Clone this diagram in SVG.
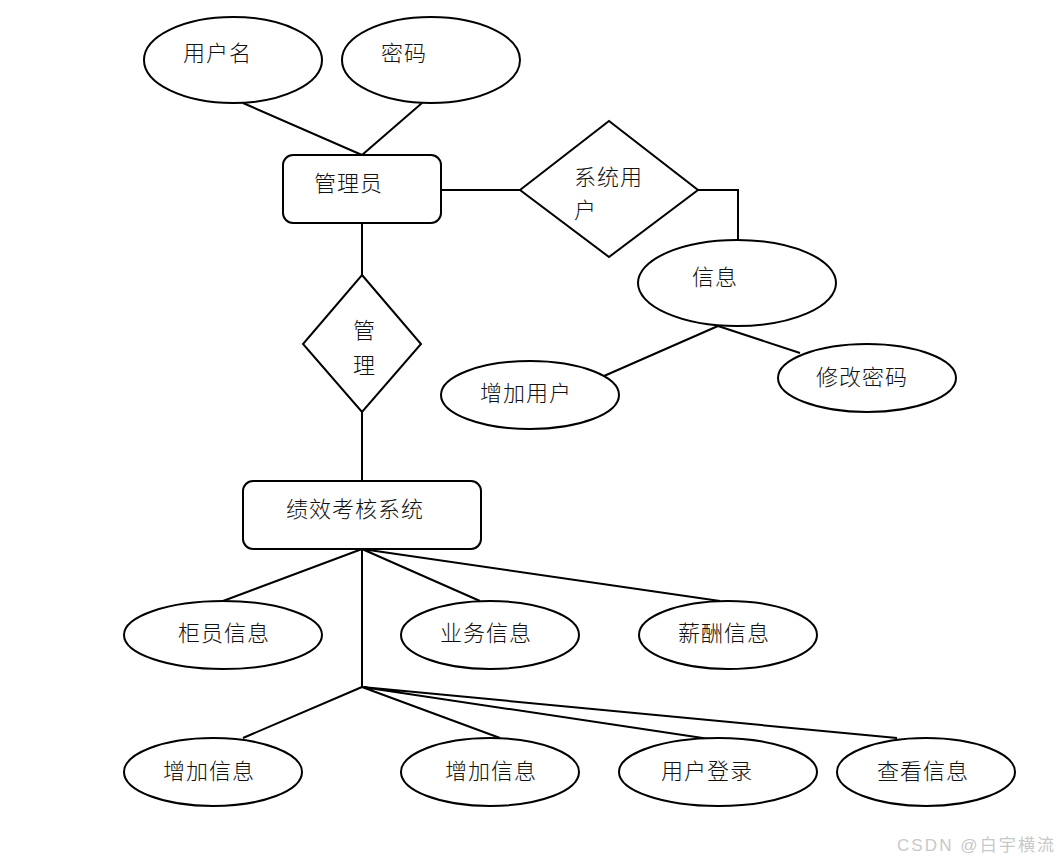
<svg xmlns="http://www.w3.org/2000/svg" width="1060" height="862" viewBox="0 0 1060 862">
<style>
.s{fill:#fff;stroke:#000;stroke-width:2}
.c{fill:none;stroke:#000;stroke-width:2}
text{font-family:"Liberation Sans","Noto Sans CJK SC",sans-serif;font-size:22px;font-weight:300;fill:#111;letter-spacing:1px}
.w{font-size:17px;fill:#c8c8c8;letter-spacing:0;font-weight:400}
</style>
<rect width="1060" height="862" fill="#fff"/>
<g id="connectors">
<path class="c" d="M243,103 L362,155 M422,103 L362,155"/>
<path class="c" d="M441,190 L520,190"/>
<path class="c" d="M698,190 L738,190 L738,241"/>
<path class="c" d="M718,326 L604,376 M718,326 L800,353"/>
<path class="c" d="M362,223 L362,275 M362,412 L362,481"/>
<path class="c" d="M362,549 L223,601 M362,549 L480,601 M362,549 L720,601 M362,549 L362,687"/>
<path class="c" d="M362,687 L243,738 M362,687 L500,738 M362,687 L716,740 M362,687 L897,738"/>
</g>
<g id="n-username"><ellipse class="s" cx="233" cy="60" rx="89" ry="43"/><text x="183" y="61">用户名</text></g>
<g id="n-password"><ellipse class="s" cx="431" cy="60" rx="89" ry="43"/><text x="381" y="61">密码</text></g>
<g id="n-admin"><rect class="s" x="283" y="155" width="158" height="68" rx="10"/><text x="314" y="191">管理员</text></g>
<g id="n-sysuser"><polygon class="s" points="520,190 609,121 698,190 609,257"/><text x="574" y="185">系统用</text><text x="574" y="218">户</text></g>
<g id="n-info"><ellipse class="s" cx="737" cy="283" rx="99" ry="43"/><text x="692" y="285">信息</text></g>
<g id="n-adduser"><ellipse class="s" cx="530" cy="395" rx="89" ry="34"/><text x="480" y="401">增加用户</text></g>
<g id="n-changepwd"><ellipse class="s" cx="867" cy="378" rx="89" ry="34"/><text x="816" y="385">修改密码</text></g>
<g id="n-manage"><polygon class="s" points="362,275 421,344 362,412 303,344"/><text x="353" y="338">管</text><text x="353" y="373">理</text></g>
<g id="n-system"><rect class="s" x="243" y="481" width="238" height="68" rx="10"/><text x="286" y="517">绩效考核系统</text></g>
<g id="n-teller"><ellipse class="s" cx="223" cy="635" rx="99" ry="34"/><text x="178" y="641">柜员信息</text></g>
<g id="n-business"><ellipse class="s" cx="490" cy="635" rx="89" ry="34"/><text x="440" y="641">业务信息</text></g>
<g id="n-salary"><ellipse class="s" cx="728" cy="635" rx="89" ry="34"/><text x="678" y="641">薪酬信息</text></g>
<g id="n-add1"><ellipse class="s" cx="213" cy="772" rx="89" ry="34"/><text x="163" y="779">增加信息</text></g>
<g id="n-add2"><ellipse class="s" cx="490" cy="772" rx="89" ry="34"/><text x="445" y="779">增加信息</text></g>
<g id="n-login"><ellipse class="s" cx="718" cy="772" rx="99" ry="34"/><text x="661" y="779">用户登录</text></g>
<g id="n-view"><ellipse class="s" cx="926" cy="772" rx="89" ry="34"/><text x="877" y="779">查看信息</text></g>
<text class="w" x="897" y="851" textLength="157">CSDN @白宇横流</text>
</svg>
